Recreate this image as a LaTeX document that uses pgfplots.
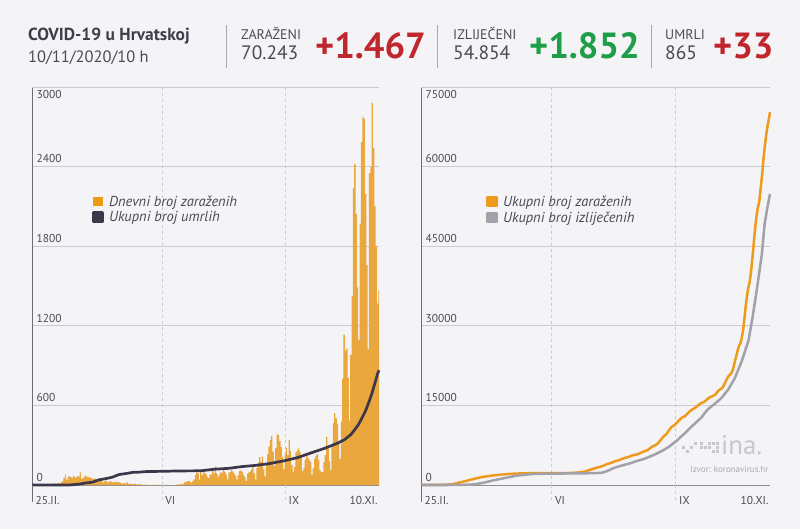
\documentclass[border=0pt]{standalone}
\usepackage{fontspec}
\setmainfont{PT Sans}
\usepackage{pgfplots}
\pgfplotsset{compat=1.18}
\definecolor{bg}{HTML}{F4F4F7}
\definecolor{txtdark}{HTML}{3E3E4A}
\definecolor{txtmid}{HTML}{4A4A56}
\definecolor{txtlab}{HTML}{55555F}
\definecolor{hred}{HTML}{C0262D}
\definecolor{hgreen}{HTML}{1E9E48}
\definecolor{sepgray}{HTML}{A8A8B0}
\definecolor{barorange}{HTML}{E9A73D}
\definecolor{legorange}{HTML}{EC9A12}
\definecolor{deathline}{HTML}{3E3749}
\definecolor{caseline}{HTML}{EE9A1D}
\definecolor{recline}{HTML}{A2A1AA}
\definecolor{gridgray}{HTML}{CACAD0}
\definecolor{yaxisdark}{HTML}{6D6D77}
\definecolor{xaxisgray}{HTML}{8E8E96}
\definecolor{ticktext}{HTML}{4A4A54}
\definecolor{logogray}{HTML}{C6C6CE}
\pgfplotsset{
  hinaaxis/.style={
    anchor=south west, scale only axis, height=398bp,
    xmin=0, xmax=259, ymin=0,
    axis x line*=bottom, axis y line*=left,
    x axis line style={draw=xaxisgray, line width=1bp},
    y axis line style={draw=yaxisdark, line width=1bp},
    xtick={0,97,189}, xticklabels={25.II.,VI,IX},
    extra x ticks={259}, extra x tick labels={10.XI.},
    extra x tick style={grid=none, xticklabel style={anchor=north east, xshift=2bp}},
    xticklabel style={anchor=north west, yshift=-8bp},
    yticklabel style={anchor=south west, xshift=1bp},
    extra y tick style={grid=major, yticklabel style={anchor=north west}},
    major tick length=0pt,
    xmajorgrids, ymajorgrids,
    x grid style={dashed, draw=gridgray, line width=0.6bp},
    y grid style={draw=gridgray, line width=0.8bp},
    tick label style={font=\fontsize{11.5}{13}\selectfont, text=ticktext},
    /pgf/number format/assume math mode=true,
    /pgf/number format/1000 sep={},
    scaled y ticks=false,
    clip=false,
    legend cell align=left,
    legend style={draw=none, fill=none, anchor=north west,
      font=\itshape\fontsize{14.5}{17}\selectfont, text=txtmid,
      row sep=0bp, column sep=3bp, inner sep=0pt},
    legend image code/.code={\fill[##1] (0bp,-4.7bp) rectangle (9.5bp,4.7bp);},
  }
}
\begin{document}
\begin{tikzpicture}
\useasboundingbox (0,0) rectangle (800bp,529bp);
\fill[bg] (0,0) rectangle (800bp,529bp);
% header
\node[anchor=base west, inner sep=0, font=\fontsize{17.5}{20}\selectfont\bfseries, text=txtdark] at (28bp,488bp) {COVID-19 u Hrvatskoj};
\node[anchor=base west, inner sep=0, font=\fontsize{16.5}{19}\selectfont, text=txtmid] at (28bp,466bp) {10/11/2020/10 h};
\draw[sepgray, line width=0.8bp] (226.5bp,504bp) -- (226.5bp,461bp);
\draw[sepgray, line width=0.8bp] (437bp,504bp) -- (437bp,461bp);
\draw[sepgray, line width=0.8bp] (651bp,504bp) -- (651bp,461bp);
\node[anchor=base west, inner sep=0, font=\fontsize{14}{16}\selectfont, text=txtmid] at (241bp,489bp) {ZARAŽENI};
\node[anchor=base west, inner sep=0, font=\fontsize{19.5}{22}\selectfont, text=txtmid] at (241bp,469bp) {70.243};
\node[anchor=base west, inner sep=0, font=\fontsize{36.5}{40}\selectfont\bfseries, text=hred] at (315bp,470bp) {+1.467};
\node[anchor=base west, inner sep=0, font=\fontsize{14}{16}\selectfont, text=txtmid] at (453bp,489bp) {IZLIJEČENI};
\node[anchor=base west, inner sep=0, font=\fontsize{19.5}{22}\selectfont, text=txtmid] at (453bp,469bp) {54.854};
\node[anchor=base west, inner sep=0, font=\fontsize{36.5}{40}\selectfont\bfseries, text=hgreen] at (529bp,470bp) {+1.852};
\node[anchor=base west, inner sep=0, font=\fontsize{14}{16}\selectfont, text=txtmid] at (665bp,489bp) {UMRLI};
\node[anchor=base west, inner sep=0, font=\fontsize{19.5}{22}\selectfont, text=txtmid] at (665bp,469bp) {865};
\node[anchor=base west, inner sep=0, font=\fontsize{36.5}{40}\selectfont\bfseries, text=hred] at (713bp,470bp) {+33};

% left chart
\begin{axis}[hinaaxis, at={(32bp,44bp)}, width=347bp, ymax=3000,
  ytick={0,600,1200,1800,2400}, extra y ticks={3000},
  legend style={at={(0.172,0.733)}}]
\addplot[fill=barorange, draw=none, const plot mark mid,
  legend image code/.code={\fill[legorange] (0bp,-4.7bp) rectangle (9.5bp,4.7bp);}] coordinates {
(0,1) (1,2) (2,0) (3,0) (4,2)
(5,1) (6,0) (7,1) (8,2) (9,1) (10,1) (11,2) (12,2) (13,0) (14,3) (15,5) (16,11) (17,11) (18,7) (19,13) (20,15) (21,9) (22,24) (23,27) (24,52) (25,78) (26,38) (27,61) (28,67) (29,60) (30,53) (31,71) (32,61) (33,56) (34,67) (35,63)
(36,96) (37,48) (38,50) (39,64) (40,71) (41,64) (42,60) (43,57) (44,56) (45,48) (46,46) (47,50) (48,34) (49,41) (50,37) (51,40) (52,40) (53,18) (54,27) (55,33) (56,27) (57,18) (58,27) (59,28) (60,23) (61,17) (62,25) (63,22) (64,22) (65,20)
(66,18) (67,11) (68,12) (69,14) (70,8) (71,20) (72,9) (73,10) (74,8) (75,9) (76,5) (77,11) (78,5) (79,4) (80,5) (81,5) (82,3) (83,1) (84,2) (85,3) (86,1) (87,0) (88,1) (89,0) (90,1) (91,2) (92,1) (93,0) (94,1) (95,1) (96,0)
(97,0) (98,1) (99,0) (100,2) (101,1) (102,0) (103,0) (104,0) (105,1) (106,0) (107,0) (108,2) (109,4) (110,5) (111,8) (112,2) (113,11) (114,20) (115,21) (116,29) (117,30) (118,25) (119,16) (120,28) (121,40) (122,75) (123,96) (124,87) (125,40) (126,114)
(127,75) (128,96) (129,91) (130,80) (131,61) (132,52) (133,81) (134,74) (135,116) (136,87) (137,140) (138,85) (139,59) (140,78) (141,95) (142,91) (143,118) (144,98) (145,78) (146,42) (147,93) (148,97) (149,114) (150,101) (151,86) (152,69) (153,40) (154,72) (155,104) (156,111) (157,98)
(158,75) (159,60) (160,30) (161,86) (162,95) (163,102) (164,118) (165,140) (166,88) (167,43) (168,128) (169,170) (170,210) (171,174) (172,213) (173,118) (174,65) (175,160) (176,230) (177,290) (178,340) (179,369) (180,251) (181,142) (182,280) (183,380) (184,380) (185,331) (186,286) (187,212) (188,119)
(189,227) (190,280) (191,225) (192,340) (193,260) (194,150) (195,101) (196,136) (197,245) (198,258) (199,276) (200,250) (201,211) (202,106) (203,130) (204,189) (205,232) (206,204) (207,192) (208,174) (209,74) (210,126) (211,197) (212,220) (213,233) (214,187) (215,112) (216,98) (217,95) (218,171)
(219,226) (220,363) (221,289) (222,181) (223,113) (224,310) (225,466) (226,541) (227,502) (228,460) (229,331) (230,197) (231,478) (232,802) (233,1131) (234,1011) (235,1026) (236,807) (237,486) (238,980) (239,1424) (240,2240) (241,2421) (242,2044) (243,1489) (244,1093) (245,1970) (246,2584) (247,2772) (248,2760) (249,2195)
(250,1658) (251,1024) (252,2350) (253,2400) (254,2880) (255,2540) (256,2100) (257,1800) (258,1367) (259,1467)
} \closedcycle;
\addlegendentry{Dnevni broj zaraženih}
\addplot[color=deathline, line width=2.7bp, line join=round] coordinates {
(0,0) (28,0) (29,1) (35,6) (40,15) (45,21) (50,39) (55,48) (60,59) (65,79) (70,86) (75,95) (80,97) (85,101) (96,103) (111,106) (126,107) (136,119) (146,125) (157,139) (167,148) (177,161) (188,182) (198,206) (208,241) (218,275) (223,295) (228,315) (233,340) (238,380) (243,445) (245,480) (249,560) (252,640) (254,700) (256,770) (258,840) (259,865)
};
\addlegendentry{Ukupni broj umrlih}
\draw[yaxisdark, line width=1bp] (axis cs:0,0) -- ++(0,-17bp);
\draw[gridgray, dashed, line width=0.6bp] (axis cs:97,0) -- ++(0,-17bp);
\draw[gridgray, dashed, line width=0.6bp] (axis cs:189,0) -- ++(0,-17bp);
\end{axis}

% right chart
\begin{axis}[hinaaxis, at={(421bp,44bp)}, width=349bp, ymax=75000,
  ytick={0,15000,30000,45000,60000}, extra y ticks={75000},
  legend style={at={(0.186,0.733)}}]
\addplot[color=caseline, line width=2.5bp, line join=round] coordinates {
(0,1) (4,5) (9,10) (14,18) (19,65) (22,113) (24,192) (26,308) (28,436) (30,549) (32,681) (35,867) (36,963) (38,1061) (40,1196) (43,1377) (45,1481) (48,1611) (50,1689) (53,1787) (55,1847) (58,1919) (61,1987) (63,2034) (65,2076) (66,2094) (70,2139) (75,2195) (80,2225) (85,2239) (90,2242) (96,2247) (105,2249) (112,2268) (116,2349) (119,2420) (122,2563) (124,2746) (126,2900) (128,3071) (130,3242) (132,3355) (134,3510) (136,3713) (138,3938) (140,4075) (142,4261) (144,4477) (146,4597) (148,4787) (150,5002) (152,5157) (154,5269) (156,5484) (158,5657) (160,5747) (162,5928) (164,6148) (166,6376) (168,6547) (170,6927) (172,7314) (174,7497) (176,7887) (178,8517) (180,9137) (182,9559) (184,10319) (186,10936) (188,11267) (190,11773) (192,12338) (194,12748) (196,12985) (198,13488) (200,14014) (202,14331) (204,14650) (206,15086) (208,15452) (210,15652) (212,16069) (214,16489) (216,16699) (218,16965) (219,17191) (220,17554) (221,17843) (222,18024) (223,18137) (224,18447) (225,18913) (226,19454) (227,19956) (228,20416) (229,20747) (230,20944) (231,21422) (232,22224) (233,23355) (234,24366) (235,25392) (236,26199) (237,26685) (238,27665) (239,29089) (240,31329) (241,33750) (242,35794) (243,37283) (244,38376) (245,40346) (246,42930) (247,45702) (248,48462) (249,50657) (250,52315) (251,53339) (252,55689) (253,58089) (254,60969) (255,63509) (256,65609) (257,67409) (258,68776) (259,70243)
};
\addlegendentry{Ukupni broj zaraženih}
\addplot[color=recline, line width=2.5bp, line join=round] coordinates {
(0,0) (20,0) (25,5) (30,30) (35,60) (40,130) (46,400) (50,650) (55,950) (60,1200) (66,1500) (70,1720) (75,1880) (80,2000) (84,2075) (90,2110) (98,2150) (110,2180) (120,2200) (128,2230) (134,2300) (138,2600) (143,3200) (148,3600) (154,4000) (160,4500) (166,4950) (173,5700) (178,6300) (184,7200) (190,8400) (196,9800) (202,11300) (208,12700) (211,13700) (213,14300) (218,15300) (223,16400) (228,18000) (233,20200) (238,23300) (243,27200) (246,31500) (248,34800) (250,38200) (253,43600) (255,49200) (257,52200) (259,54854)
};
\addlegendentry{Ukupni broj izliječenih}
\draw[yaxisdark, line width=1bp] (axis cs:0,0) -- ++(0,-17bp);
\draw[gridgray, dashed, line width=0.6bp] (axis cs:97,0) -- ++(0,-17bp);
\draw[gridgray, dashed, line width=0.6bp] (axis cs:189,0) -- ++(0,-17bp);
\end{axis}

% logo and source
\foreach \xx/\yy in {700/80,704/80,708/80,700/84,708/84,712/76,716/76,716/80,716/84,712/84,690/80,694/84,682/80,686/76}
  \fill[logogray] (\xx bp,\yy bp) rectangle ++(3.3bp,3.3bp);
\node[anchor=base west, inner sep=0, font=\fontsize{27}{30}\selectfont, text=logogray] at (721bp,74bp) {ina.};
\node[anchor=base west, inner sep=0, font=\fontsize{9}{10}\selectfont, text=logogray!85!black] at (690bp,56bp) {Izvor: koronavirus.hr};
\end{tikzpicture}
\end{document}
